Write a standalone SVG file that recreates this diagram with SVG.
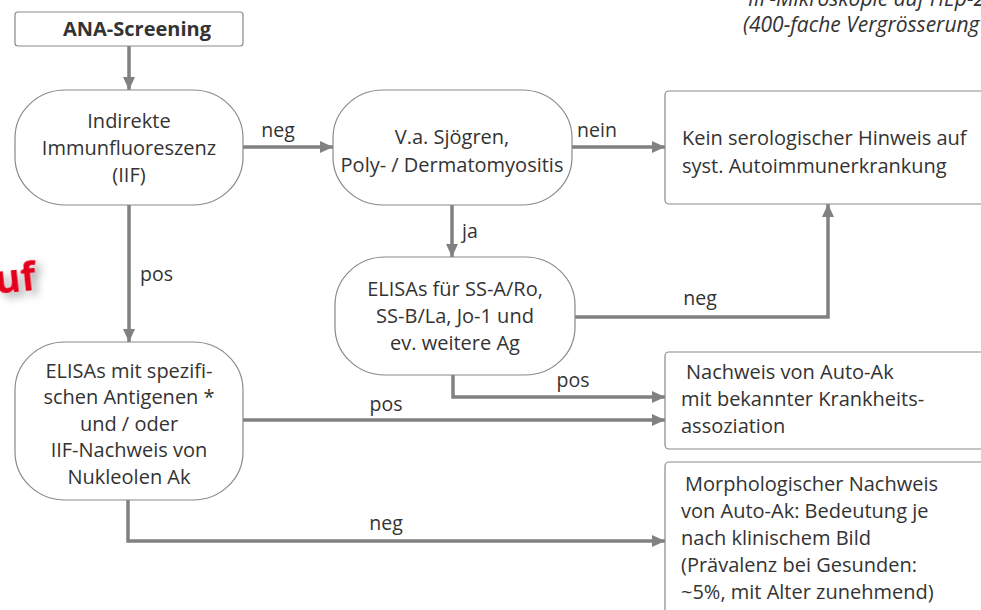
<svg xmlns="http://www.w3.org/2000/svg" width="981" height="610" viewBox="0 0 981 610">
<defs>
<style>
.node{fill:#ffffff;stroke:#8a8a8a;stroke-width:1.2}
.t{font-family:"Open Sans","Noto Sans",sans-serif;font-size:20px;fill:#333333}
.c{text-anchor:middle}
.b{font-weight:bold}
.lbl{font-family:"Open Sans","Noto Sans",sans-serif;font-size:19.5px;fill:#333333}
.conn{fill:none;stroke:#818181;stroke-width:3.5}
.it{font-family:"Open Sans","Noto Sans",sans-serif;font-size:21px;font-style:italic;fill:#333333}
</style>
<marker id="ah" viewBox="0 0 13 12" refX="13" refY="6" markerWidth="13" markerHeight="12" markerUnits="userSpaceOnUse" orient="auto">
<path d="M0,0 L13,6 L0,12 Z" fill="#818181"/>
</marker>
<filter id="sh" x="-50%" y="-50%" width="200%" height="200%">
<feGaussianBlur in="SourceAlpha" stdDeviation="4"/>
<feOffset dx="5" dy="5" result="o"/>
<feComponentTransfer><feFuncA type="linear" slope="0.35"/></feComponentTransfer>
<feMerge><feMergeNode/><feMergeNode in="SourceGraphic"/></feMerge>
</filter>
</defs>
<rect width="981" height="610" fill="#ffffff"/>

<g id="caption">
<text class="it" x="748" y="6">IIF-Mikroskopie auf HEp-2</text>
<text class="it" x="743" y="32">(400-fache Vergrösserung</text>
</g>
<g id="red-fragment">
<text x="-5" y="292" transform="rotate(-6 15 280)" filter="url(#sh)" style="font-family:'Open Sans','Liberation Sans',sans-serif;font-weight:bold;font-size:39px;fill:#e3001b">uf</text>
</g>

<g id="connectors">
<line class="conn" x1="129" y1="46" x2="129" y2="90" marker-end="url(#ah)"/>
<line class="conn" x1="243" y1="147" x2="333" y2="147" marker-end="url(#ah)"/>
<line class="conn" x1="572" y1="147" x2="665" y2="147" marker-end="url(#ah)"/>
<line class="conn" x1="452" y1="205" x2="452" y2="257" marker-end="url(#ah)"/>
<path class="conn" d="M575,317 H828 V204" marker-end="url(#ah)"/>
<path class="conn" d="M453,375 V397 H665" marker-end="url(#ah)"/>
<line class="conn" x1="243" y1="420" x2="665" y2="420" marker-end="url(#ah)"/>
<line class="conn" x1="129" y1="205" x2="129" y2="342" marker-end="url(#ah)"/>
<path class="conn" d="M128,500 V541 H665" marker-end="url(#ah)"/>
<text class="lbl c" x="278" y="137">neg</text>
<text class="lbl c" x="597" y="137">nein</text>
<text class="lbl" x="462" y="238">ja</text>
<text class="lbl" x="140" y="281">pos</text>
<text class="lbl c" x="700" y="305">neg</text>
<text class="lbl c" x="573" y="387">pos</text>
<text class="lbl c" x="386" y="411">pos</text>
<text class="lbl c" x="386" y="530">neg</text>
</g>

<g id="ana">
<rect class="node" x="15" y="12" width="228" height="34" rx="3"/>
<text class="t c b" x="137" y="36">ANA-Screening</text>
</g>

<g id="iif">
<rect class="node" x="15" y="90" width="228" height="115" rx="50" ry="48"/>
<text class="t c" x="129" y="128">Indirekte</text>
<text class="t c" x="129" y="155">Immunfluoreszenz</text>
<text class="t c" x="129" y="182">(IIF)</text>
</g>

<g id="sjoegren">
<rect class="node" x="333" y="90" width="239" height="115" rx="50" ry="48"/>
<text class="t c" x="452" y="144">V.a. Sjögren,</text>
<text class="t c" x="452" y="172">Poly- / Dermatomyositis</text>
</g>

<g id="elisa-ss">
<rect class="node" x="335" y="257" width="240" height="118" rx="50" ry="48"/>
<text class="t c" x="455" y="296">ELISAs für SS-A/Ro,</text>
<text class="t c" x="455" y="323">SS-B/La, Jo-1 und</text>
<text class="t c" x="455" y="350">ev. weitere Ag</text>
</g>

<g id="elisa-spez">
<rect class="node" x="15" y="342" width="228" height="158" rx="50" ry="48"/>
<text class="t c" x="129" y="378">ELISAs mit spezifi-</text>
<text class="t c" x="129" y="404">schen Antigenen *</text>
<text class="t c" x="129" y="431">und / oder</text>
<text class="t c" x="129" y="457">IIF-Nachweis von</text>
<text class="t c" x="129" y="484">Nukleolen Ak</text>
</g>

<g id="kein">
<rect class="node" x="665" y="91" width="330" height="113" rx="4"/>
<text class="t" x="682" y="145">Kein serologischer Hinweis auf</text>
<text class="t" x="682" y="173">syst. Autoimmunerkrankung</text>
</g>

<g id="nachweis">
<rect class="node" x="665" y="352" width="330" height="97" rx="4"/>
<text class="t" x="686" y="379">Nachweis von Auto-Ak</text>
<text class="t" x="681" y="406">mit bekannter Krankheits-</text>
<text class="t" x="681" y="433">assoziation</text>
</g>

<g id="morph">
<rect class="node" x="665" y="462" width="330" height="160" rx="4"/>
<text class="t" x="685" y="491">Morphologischer Nachweis</text>
<text class="t" x="681" y="518">von Auto-Ak: Bedeutung je</text>
<text class="t" x="681" y="545">nach klinischem Bild</text>
<text class="t" x="681" y="572">(Prävalenz bei Gesunden:</text>
<text class="t" x="681" y="599">~5%, mit Alter zunehmend)</text>
</g>
</svg>
